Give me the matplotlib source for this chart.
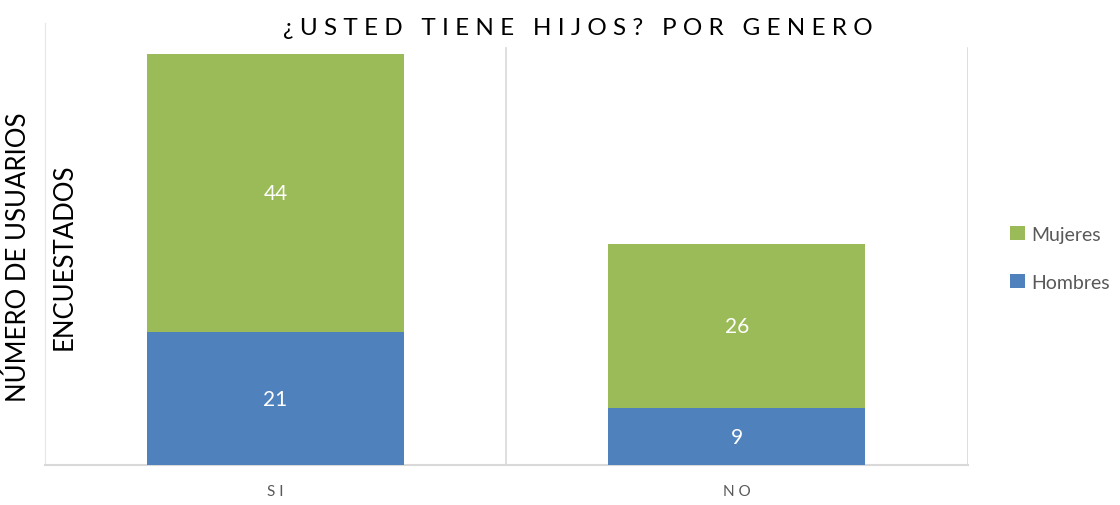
import matplotlib.pyplot as plt
import numpy as np

plt.rcParams['font.family'] = ['Lato', 'DejaVu Sans']

# data
categories = ["SI", "NO"]
series = ["Hombres", "Mujeres"]
hombres = [21, 9]
mujeres = [44, 26]
colors = ["#4F81BD", "#9BBB59"]

fig = plt.figure(figsize=(11.2, 5.06), dpi=100)
ax = fig.add_axes([0.040, 0.079, 0.824, 0.874])

x = np.arange(len(categories))
values = [hombres, mujeres]
bottom = np.zeros(len(categories))
handles = []
for vals, name, col in zip(values, series, colors):
    b = ax.bar(x, vals, 0.557, bottom=bottom, color=col, label=name, zorder=3)
    handles.append(b)
    for xi, v, b0 in zip(x, vals, bottom):
        ax.text(xi, b0 + v / 2, str(v), ha="center", va="center",
                color="white", fontsize=15, zorder=4)
    bottom += np.array(vals)

ax.set_xlim(-0.5, len(categories) - 0.5)
ax.set_ylim(0, 70)

# category separators
for sep in np.arange(0.5, len(categories), 1.0):
    ax.axvline(sep, ymin=0, ymax=66 / 70, color="#D9D9D9", lw=1.2, zorder=1)

for s in ["top", "right"]:
    ax.spines[s].set_visible(False)
ax.spines["left"].set_color("#E6E6E6")
ax.spines["bottom"].set_color("#D9D9D9")
ax.spines["bottom"].set_linewidth(1.5)
ax.set_yticks([])
ax.set_xticks(x)
ax.set_xticklabels([" ".join(c) for c in categories], color="#595959", fontsize=11)
ax.tick_params(axis="x", length=0, pad=14)

title = "¿USTED TIENE HIJOS? POR GENERO"
spaced = "   ".join(" ".join(w) for w in title.split(" "))
fig.text(0.516, 0.943, spaced, ha="center", va="center", fontsize=17.5, color="black")

fig.text(0.016, 0.492, "NÚMERO DE USUARIOS", rotation=90, ha="center", va="center",
         fontsize=18.5, color="black")
fig.text(0.057, 0.492, "ENCUESTADOS", rotation=90, ha="center", va="center",
         fontsize=18.5, color="black")

leg = fig.legend(handles[::-1], series[::-1], loc="center left",
                 bbox_to_anchor=(0.902, 0.488), frameon=False, fontsize=14,
                 handlelength=0.75, handleheight=0.75, labelspacing=1.6,
                 handletextpad=0.35, borderaxespad=0, borderpad=0)
for t in leg.get_texts():
    t.set_color("#595959")

fig.savefig("out.png", dpi=100)
